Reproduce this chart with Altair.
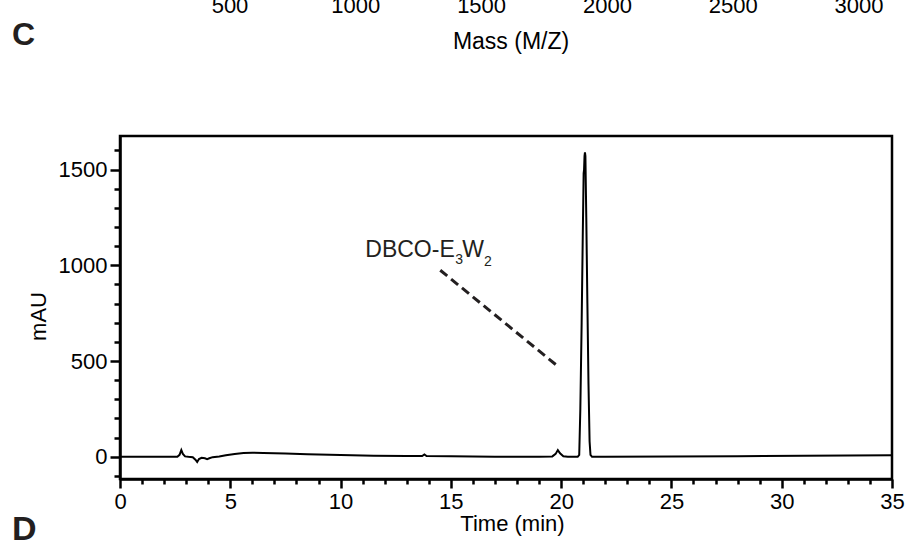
import altair as alt
import pandas as pd

# ---- chromatogram trace ----
time_min = [0, 2.6, 2.7, 2.78, 2.85, 2.95, 3.1, 3.3, 3.42, 3.5, 3.58, 3.7, 3.85, 3.95, 4.05, 4.2,
            4.5, 4.8, 5.2, 5.6, 6.0, 6.5, 7.5, 8.5, 10.0, 11.5, 13.0, 13.7, 13.8, 13.9, 15.0, 16.0,
            17.0, 19.0, 19.6, 19.75, 19.85, 19.95, 20.1, 20.3, 20.75, 20.82, 20.87, 20.93, 20.98,
            21.02, 21.04, 21.06, 21.08, 21.10, 21.14, 21.19, 21.24, 21.29, 21.33, 21.40, 22.0,
            25.0, 28.0, 31.0, 35.0]
mau = [0, 0, 10, 35, 15, 2, 0, -2, -15, -27, -12, -5, -8, -12, -8, -2,
       2, 8, 15, 20, 21, 20, 17, 13, 9, 6, 4, 4, 12, 4, 3, 1,
       0, 0, 2, 15, 35, 18, 3, 0, 0, 10, 250, 700, 1150,
       1480, 1500, 1570, 1590, 1570, 1250, 800, 380, 80, 10, 0, 0,
       2, 3, 5, 8]

# ---- annotation ----
label_main = ["DBCO-E", "W"]
label_main_t = [11.12, 15.52]
label_main_v = [1041, 1041]
label_sub = ["3", "2"]
label_sub_t = [15.20, 16.50]
label_sub_v = [1006, 996]
pointer_t = [14.52, 19.88]
pointer_v = [974, 470]

# ---- remnants of the panel above ----
mass_ticks = [500, 1000, 1500, 2000, 2500, 3000]

FONT = "Liberation Sans, Arial, Helvetica, sans-serif"
TXT = "#231f20"
X_DOMAIN = [0, 35]
Y_DOMAIN = [-116, 1675]

trace = pd.DataFrame({"t": time_min, "v": mau})
main_txt = pd.DataFrame({"t": label_main_t, "v": label_main_v, "s": label_main})
sub_txt = pd.DataFrame({"t": label_sub_t, "v": label_sub_v, "s": label_sub})
pointer = pd.DataFrame({"t": [pointer_t[0]], "t2": [pointer_t[1]],
                        "v": [pointer_v[0]], "v2": [pointer_v[1]]})
mass_df = pd.DataFrame({"m": mass_ticks, "s": [str(m) for m in mass_ticks]})

xscale = alt.Scale(domain=X_DOMAIN, nice=False, zero=False)
yscale = alt.Scale(domain=Y_DOMAIN, nice=False, zero=False)

x_axis = alt.Axis(
    values=list(range(0, 36)),
    labelExpr="datum.value % 5 === 0 ? datum.label : ''",
    tickSize={"condition": {"test": "datum.value % 5 === 0", "value": 9}, "value": 5},
    tickWidth=2.5, domainWidth=2.5, domainColor="black", tickColor="black",
    labelFont=FONT, labelFontSize=22, labelColor="black", labelPadding=3,
    labelFlush=False, labelOverlap=False, labelBound=False, grid=False,
    title="Time (min)", titleFont=FONT, titleFontSize=22, titleFontWeight="normal",
    titleColor="black", titleX=392, titleY=51, titleBaseline="alphabetic",
    titleAnchor="start", titleAlign="center",
)
y_axis = alt.Axis(
    values=list(range(-100, 1700, 100)),
    labelExpr="datum.value % 500 === 0 ? datum.label : ''",
    tickSize={"condition": {"test": "datum.value % 500 === 0", "value": 10}, "value": 6},
    tickWidth=2.5, domainWidth=2.5, domainColor="black", tickColor="black",
    labelFont=FONT, labelFontSize=22, labelColor="black", labelPadding=3,
    labelFlush=False, labelOverlap=False, labelBound=False, grid=False, format="d",
    title="mAU", titleFont=FONT, titleFontSize=22, titleFontWeight="normal",
    titleColor="black", titleX=-82, titleY=180, titleAngle=270,
    titleBaseline="middle", titleAlign="center", titleAnchor="start",
)

X = lambda f: alt.X(f, scale=xscale, axis=x_axis)
Y = lambda f: alt.Y(f, scale=yscale, axis=y_axis)

line = alt.Chart(trace).mark_line(color="black", strokeWidth=2, interpolate="linear").encode(
    x=X("t:Q"), y=Y("v:Q"),
)
rule = alt.Chart(pointer).mark_rule(color=TXT, strokeWidth=3, strokeDash=[9, 5]).encode(
    x=X("t:Q"), x2="t2:Q", y=Y("v:Q"), y2="v2:Q",
)
t_main = alt.Chart(main_txt).mark_text(
    font=FONT, fontSize=23, color=TXT, align="left", baseline="alphabetic"
).encode(x=X("t:Q"), y=Y("v:Q"), text="s:N")
t_sub = alt.Chart(sub_txt).mark_text(
    font=FONT, fontSize=14, color=TXT, align="left", baseline="alphabetic"
).encode(x=X("t:Q"), y=Y("v:Q"), text="s:N")

panel = alt.layer(line, rule, t_main, t_sub)

# remnants of neighbouring panels (outside the plot area)
mass_lbl = alt.Chart(mass_df).mark_text(
    font=FONT, fontSize=22, color="black", align="center", baseline="alphabetic"
).encode(
    x=alt.X("m:Q", scale=alt.Scale(domain=[500, 3000], range=[110, 739]), axis=None),
    y=alt.value(-123),
    text="s:N",
)
one = pd.DataFrame({"k": [0]})
mass_title = alt.Chart(one).mark_text(
    font=FONT, fontSize=23, color="black", align="center", baseline="alphabetic"
).encode(x=alt.value(391), y=alt.value(-87), text=alt.value("Mass (M/Z)"))
c_lbl = alt.Chart(one).mark_text(
    font=FONT, fontSize=32, fontWeight="bold", color=TXT, align="left", baseline="alphabetic"
).encode(x=alt.value(-108), y=alt.value(-91), text=alt.value("C"))
d_lbl = alt.Chart(one).mark_text(
    font=FONT, fontSize=34, fontWeight="bold", color=TXT, align="left", baseline="alphabetic"
).encode(x=alt.value(-108), y=alt.value(404), text=alt.value("D"))

chart = alt.layer(panel, mass_lbl, mass_title, c_lbl, d_lbl).resolve_scale(
    x="independent"
).properties(
    width=772, height=343,
    autosize=alt.AutoSizeParams(type="none"),
    padding={"left": 120, "top": 136, "right": 15, "bottom": 73},
    background="white",
).configure_view(stroke="black", strokeWidth=2.5).configure_axis(labelOverlap=False)

chart.save("out.html", embed_options={"renderer": "svg", "actions": False})
